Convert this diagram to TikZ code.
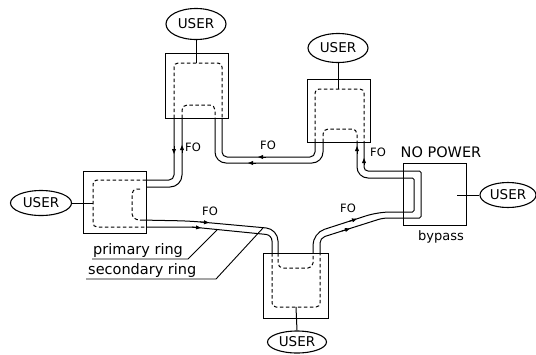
\documentclass[tikz,border=0pt]{standalone}
\usepackage{fontspec}
\newfontfamily\lab{DejaVu Sans}
\usetikzlibrary{shapes.geometric,arrows.meta}
\begin{document}
\begin{tikzpicture}[x=1pt,y=-1pt,
  box/.style={draw, line width=1.1pt, inner sep=0pt, anchor=north west},
  ring/.style={draw, dash pattern=on 3.5pt off 2.5pt, line width=1pt},
  fiber/.style={draw, line width=1pt},
  user/.style={draw, ellipse, line width=1.1pt, inner sep=0pt, font=\lab\fontsize{13.5}{14}\selectfont},
  fo/.style={font=\lab\fontsize{11.5}{12}\selectfont, inner sep=0pt},
  ringlabel/.style={font=\lab\fontsize{14.5}{15}\selectfont, inner sep=0pt, anchor=base west},
  tip/.style={-{Triangle[length=5pt,width=3.8pt]}, line width=1pt},
  leader/.style={draw, line width=0.9pt},
]
\useasboundingbox (0,0) rectangle (536,354);

% stations
\node[box, minimum width=63pt, minimum height=65pt] (b1) at (165,53) {};
\node[box, minimum width=63pt, minimum height=62pt] (b2) at (83,171) {};
\node[box, minimum width=65pt, minimum height=65pt] (b3) at (263,253) {};
\node[box, minimum width=63pt, minimum height=63pt] (b4) at (307,79) {};
\node[box, minimum width=63pt, minimum height=62pt] (bp) at (403,163) {};

% users
\node[user, minimum width=60pt, minimum height=31pt] (u1) at (196,24) {USER};
\node[user, minimum width=60pt, minimum height=29pt] (u4) at (338,48) {USER};
\node[user, minimum width=61pt, minimum height=25pt] (u2) at (41,203) {USER};
\node[user, minimum width=56pt, minimum height=25pt] (up) at (508,195) {USER};
\node[user, minimum width=59pt, minimum height=22pt] (u3) at (297,342) {USER};

\coordinate (c1) at (196,63);
\coordinate (c4) at (338,89);
\coordinate (c2) at (93,203);
\coordinate (cp) at (457,195);
\coordinate (c3) at (296,307);
\draw[fiber] (u1.south) -- (c1);
\draw[fiber] (u4.south) -- (c4);
\draw[fiber] (u2.east) -- (c2);
\draw[fiber] (up.west) -- (cp);
\draw[fiber] (u3.north) -- (c3);

% rings inside stations
\draw[ring] [rounded corners=4pt] (174,118) -- (174,63) -- (222,63) -- (222,118);
\draw[ring] [rounded corners=5pt] (182,118) -- (182,105) -- (215,105) -- (215,118);
\draw[ring] [rounded corners=4pt] (315,142) -- (315,89) -- (364,89) -- (364,142);
\draw[ring] [rounded corners=5pt] (323,142) -- (323,129) -- (357,129) -- (357,142);
\draw[ring] [rounded corners=4pt] (146,180) -- (93,180) -- (93,227) -- (146,227);
\draw[ring] [rounded corners=5pt] (140,189) -- (132,189) -- (132,219) -- (140,220);
\draw[ring] [rounded corners=4pt] (272,253) -- (272,307) -- (320,307) -- (320,253);
\draw[ring] [rounded corners=5pt] (278,253) -- (278,268) -- (313,268) -- (313,253);

% fibers
\draw[fiber] (174,118) [rounded corners=5pt] -- (174,180) -- (146,180);
\draw[fiber] (182,118) [rounded corners=12pt] -- (182,187) -- (146,187);
\draw[fiber] (315,142) [rounded corners=5pt] -- (315,157) -- (222,157) -- (222,118);
\draw[fiber] (323,142) [rounded corners=11pt] -- (323,163) -- (215,163) -- (215,118);
\draw[fiber] (140,220) [rounded corners=12pt] -- (190,221) -- (278,229) -- (278,253);
\draw[fiber] (146,227) [rounded corners=6pt] -- (192,227) -- (272,235) -- (272,253);
\draw[fiber] (313,253) [rounded corners=12pt] -- (313,233) -- (378,212) [rounded corners=1.5pt] -- (414,212) -- (414,178) [rounded corners=11pt] -- (357,178) -- (357,142);
\draw[fiber] (320,253) [rounded corners=5pt] -- (320,238) -- (383,218) [rounded corners=1.5pt] -- (421,218) -- (421,171) [rounded corners=4pt] -- (364,171) -- (364,142);

% arrowheads
\draw[tip] (174,146) -- (174,154);
\draw[tip] (182,153) -- (182,145);
\draw[tip] (266,157) -- (258,157);
\draw[tip] (256,163) -- (248,163);
\draw[tip] (357,154) -- (357,146);
\draw[tip] (364,165) -- (364,158);
\draw[tip] (200,221.9) -- (209,222.7);
\draw[tip] (192,227) -- (201,227.9);
\draw[tip] (349,221.4) -- (357,218.8);
\draw[tip] (342,231.0) -- (350,228.5);

% labels
\node[fo] (fo1) at (193,147) {FO};
\node[fo] (fo2) at (268,145) {FO};
\node[fo] (fo3) at (378,152) {FO};
\node[fo] (fo4) at (210,211) {FO};
\node[fo] (fo5) at (348,208) {FO};
\node[font=\lab\fontsize{14.5}{15}\selectfont, inner sep=0pt] (np) at (441,152) {NO POWER};
\node[font=\lab\fontsize{13}{14}\selectfont, inner sep=0pt] (bypass) at (441,237) {bypass};
\node[ringlabel] (prim) at (93,254) {primary ring};
\node[ringlabel] (sec) at (88,274) {secondary ring};

\coordinate (p0) at (92,259);
\coordinate (p1) at (188,259);
\coordinate (p2) at (217,230);
\coordinate (s0) at (86,279);
\coordinate (s1) at (216,279);
\coordinate (s2) at (263,228);
\draw[leader] (p0) -- (p1) -- (p2);
\draw[leader] (s0) -- (s1) -- (s2);
\end{tikzpicture}
\end{document}
